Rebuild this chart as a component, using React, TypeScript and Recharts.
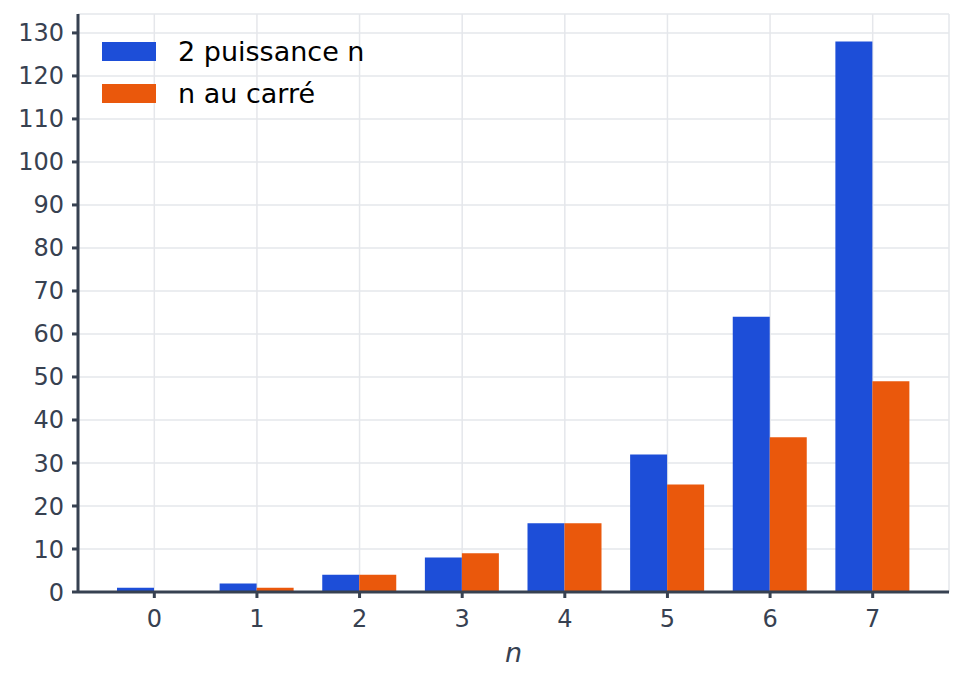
import React from "react";
import {
  BarChart,
  Bar,
  XAxis,
  YAxis,
  CartesianGrid,
} from "recharts";

const categories = ["0", "1", "2", "3", "4", "5", "6", "7"];
const powerOfTwo = [1, 2, 4, 8, 16, 32, 64, 128];
const squared = [0, 1, 4, 9, 16, 25, 36, 49];
const yTicks = [0, 10, 20, 30, 40, 50, 60, 70, 80, 90, 100, 110, 120, 130];

const data = categories.map((n, i) => ({
  n,
  pow: powerOfTwo[i],
  sq: squared[i],
}));

const AXIS = "#374151";
const FONT = "DejaVu Sans, sans-serif";

const legendItems = [
  { label: "2 puissance n", color: "#1d4ed8" },
  { label: "n au carré", color: "#ea580c" },
];

const CustomLegend = () => (
  <div
    style={{
      position: "absolute",
      left: 102,
      top: 30,
      fontFamily: FONT,
      fontSize: 27,
      color: "#000",
    }}
  >
    {legendItems.map((item) => (
      <div
        key={item.label}
        style={{ display: "flex", alignItems: "center", height: 42 }}
      >
        <div
          style={{
            width: 54,
            height: 19,
            background: item.color,
            marginRight: 22,
          }}
        />
        <span>{item.label}</span>
      </div>
    ))}
  </div>
);

const App = () => {
  return (
    <div
      style={{
        position: "absolute",
        left: 0,
        top: 0,
        width: 964,
        height: 684,
        background: "#fff",
      }}
    >
      <BarChart
        width={964}
        height={684}
        data={data}
        margin={{ top: 14, right: 15, bottom: 28, left: 8 }}
        barGap={0}
        barSize={37}
      >
        <CartesianGrid stroke="#e5e7eb" strokeWidth={1.5} />
        <XAxis
          dataKey="n"
          padding={{ left: 25, right: 25 }}
          height={64}
          stroke={AXIS}
          strokeWidth={3}
          tickSize={6}
          tick={{ fill: AXIS, fontSize: 24, fontFamily: FONT, dy: 10 }}
          label={{
            value: "n",
            position: "insideBottom",
            offset: -6,
            fill: AXIS,
            fontSize: 27,
            fontStyle: "italic",
            fontFamily: FONT,
          }}
        />
        <YAxis
          domain={[0, 134.4]}
          ticks={yTicks}
          width={70}
          stroke={AXIS}
          strokeWidth={3}
          tickSize={6}
          interval={0}
          tick={{ fill: AXIS, fontSize: 24, fontFamily: FONT, dx: -6 }}
        />
        <Bar dataKey="pow" fill="#1d4ed8" isAnimationActive={false} />
        <Bar dataKey="sq" fill="#ea580c" isAnimationActive={false} />
      </BarChart>
      <CustomLegend />
    </div>
  );
};

export default App;
